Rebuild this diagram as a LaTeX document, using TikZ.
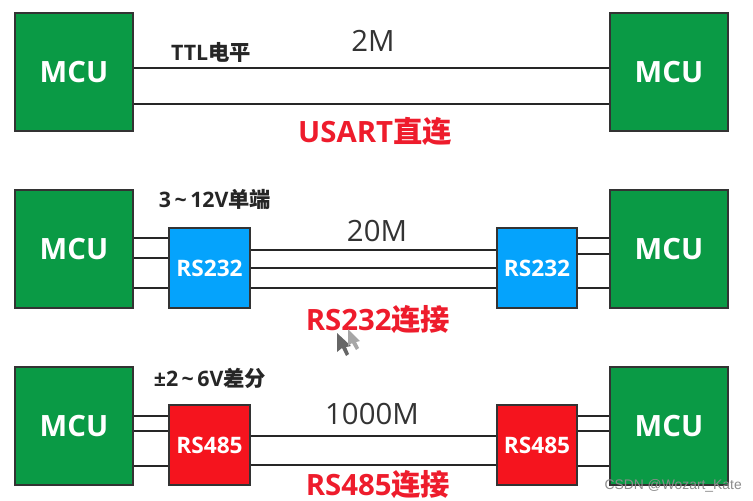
\documentclass[tikz,border=0pt]{standalone}
\usepackage{fontspec}
\setmainfont{Open Sans}
\newfontfamily\cjk{Noto Sans CJK SC}
\newfontfamily\markfont{Liberation Sans}
\usetikzlibrary{arrows.meta}
\definecolor{mcugreen}{HTML}{0A9A45}
\definecolor{rsblue}{HTML}{05A3FC}
\definecolor{rsred}{HTML}{F5141E}
\definecolor{titlered}{HTML}{EE1C2C}
\tikzset{
	mcu/.style={fill=mcugreen, draw=black!80, line width=1.4pt, shape=rectangle, minimum width=89pt, minimum height=89pt, text=white, font=\bfseries\fontsize{22}{22}\selectfont},
	rs232/.style={fill=rsblue, draw=black!80, line width=1.4pt, shape=rectangle, minimum width=60.5pt, minimum height=60.5pt, text=white, font=\bfseries\fontsize{17}{17}\selectfont},
	rs485/.style={rs232, fill=rsred},
	wire/.style={draw=black!85, line width=1.2pt},
	speed/.style={font=\fontsize{22}{22}\selectfont, text=black!80},
	note/.style={font=\bfseries\fontsize{16}{16}\selectfont, text=black!85},
	title/.style={inner sep=0pt, font=\bfseries\fontsize{22}{22}\selectfont, text=titlered}
}
\begin{document}
\begin{tikzpicture}[x=0.75pt, y=-0.75pt]
	\useasboundingbox (0, 0) rectangle (753, 500);
	\node [mcu] (m1) at (74, 72) {MCU};
	\node [mcu] (m2) at (669, 72) {MCU};
	\node [mcu] (m3) at (74, 249) {MCU};
	\node [mcu] (m4) at (669, 249) {MCU};
	\node [mcu] (m5) at (74, 426) {MCU};
	\node [mcu] (m6) at (669, 426) {MCU};
	\node [rs232] (a1) at (209.5, 268) {RS232};
	\node [rs232] (a2) at (537, 268) {RS232};
	\node [rs485] (b1) at (209.5, 445) {RS485};
	\node [rs485] (b2) at (537, 445) {RS485};
	% first row
	\draw [wire] (m1.east |- 0, 68) -- (m2.west |- 0, 68);
	\draw [wire] (m1.east |- 0, 104) -- (m2.west |- 0, 104);
	% second row
	\foreach \y in {238, 258, 288} {
		\draw [wire] (m3.east |- 0, \y) -- (a1.west |- 0, \y);
	}
	\foreach \y in {238, 254, 288} {
		\draw [wire] (a2.east |- 0, \y) -- (m4.west |- 0, \y);
	}
	\foreach \y in {250, 268, 288} {
		\draw [wire] (a1.east |- 0, \y) -- (a2.west |- 0, \y);
	}
	% third row
	\foreach \y in {416, 431, 466} {
		\draw [wire] (m5.east |- 0, \y) -- (b1.west |- 0, \y);
		\draw [wire] (b2.east |- 0, \y) -- (m6.west |- 0, \y);
	}
	\foreach \y in {436, 465} {
		\draw [wire] (b1.east |- 0, \y) -- (b2.west |- 0, \y);
	}
	\node [speed] (s1) at (373, 41) {2M};
	\node [speed] (s2) at (377, 231) {20M};
	\node [speed] (s3) at (372, 414) {1000M};
	\node [note] (n1) at (211, 52) {TTL{\cjk 电平}};
	\node [note] (n2) at (215, 199) {3\,\textasciitilde\,12V{\cjk 单端}};
	\node [note] (n3) at (210, 378) {±2\,\textasciitilde\,6V{\cjk 差分}};
	\node [title] (t1) at (375, 131) {USART{\cjk 直连}};
	\node [title] (t2) at (378, 320) {RS232{\cjk 连接}};
	\node [title] (t3) at (378, 485) {RS485{\cjk 连接}};
	\node [text=black!45, inner sep=0pt, font=\markfont\fontsize{10.4}{10.4}\selectfont, anchor=east] (w) at (742, 486) {CSDN @Wozart\_Kate};
	% mouse pointers
	\fill [black!60] (337, 333) -- (337, 352) -- (342, 348) -- (346, 356) -- (349, 354) -- (346, 347) -- (351, 346) -- cycle;
	\fill [black!35] (348, 329) -- (348, 346) -- (352, 343) -- (356, 350) -- (359, 348) -- (356, 342) -- (360, 341) -- cycle;
\end{tikzpicture}
\end{document}
